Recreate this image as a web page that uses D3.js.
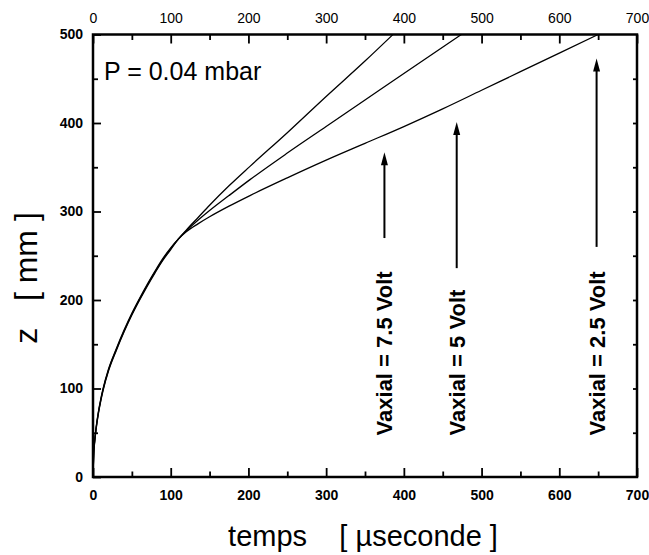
<!DOCTYPE html>
<html>
<head>
<meta charset="utf-8">
<script src="https://cdn.jsdelivr.net/npm/d3@7/dist/d3.min.js"></script>
<style>
    body { margin: 0; background: #fff; }
    svg { font-family: "Liberation Sans", Arial, Helvetica, sans-serif; }
    .axis path.domain { display: none; }
    .axis line { stroke: #000; stroke-width: 1.8; }
</style>
</head>
<body>
<svg id="chart" width="649" height="555"></svg>
<script>
// courbes z(t) : temps en µs, z en mm
const t75 = [0, 1, 2, 4, 7, 10, 13, 20, 30, 40, 50, 60, 70, 80, 90, 100, 110, 120, 135, 150, 175, 202, 250, 300, 350, 386];
const z75 = [0, 27, 38, 54, 72, 86, 98, 120, 143, 164, 183, 200, 216, 231, 245, 257, 269, 279, 293, 307, 329, 351, 389, 430, 470, 500];

const t50 = [0, 1, 2, 4, 7, 10, 13, 20, 30, 40, 50, 60, 70, 80, 90, 100, 110, 120, 135, 150, 175, 202, 250, 300, 350, 400, 474];
const z50 = [0, 28, 39, 55, 73, 87, 99, 121, 144, 165, 184, 201, 217, 232, 246, 258, 269, 278, 290, 301, 318, 336, 366, 396, 426, 456, 500];

const t25 = [0, 1, 2, 4, 7, 10, 13, 20, 30, 40, 50, 60, 70, 80, 90, 100, 110, 120, 135, 150, 175, 202, 250, 300, 350, 400, 450, 500, 550, 600, 650];
const z25 = [0, 29, 40, 56, 74, 88, 100, 122, 145, 166, 185, 202, 218, 233, 247, 259, 269, 277, 286, 294, 306, 318, 338, 358, 377, 396, 416, 437, 458, 479, 500];

// flèches et étiquettes
const arrowT = [375, 468, 648];
const arrowTop = [367, 401, 473];
const arrowBottom = [270, 236, 260];
const arrowLabels = ["Vaxial = 7.5 Volt", "Vaxial = 5 Volt", "Vaxial = 2.5 Volt"];
const labelStartZ = 47;

// graduations
const xMajorTicks = [0, 100, 200, 300, 400, 500, 600, 700];
const xMinorTicks = [50, 150, 250, 350, 450, 550, 650];
const yMajorTicks = [0, 100, 200, 300, 400, 500];
const yMinorTicks = [50, 150, 250, 350, 450];
const yRightTicks = [50, 100, 150, 200, 250, 300, 350, 400, 450];

const svg = d3.select("#chart");

// zone de tracé
const plot = {left: 93, right: 637, top: 34.5, bottom: 477};

const x = d3.scaleLinear().domain([0, 700]).range([plot.left, plot.right]);
const y = d3.scaleLinear().domain([0, 500]).range([plot.bottom, plot.top]);

// axe bas
svg.append("g").attr("class", "axis")
    .attr("transform", `translate(0,${plot.bottom})`)
    .call(d3.axisBottom(x).tickValues(xMinorTicks).tickSize(-5.5).tickFormat(""));
svg.append("g").attr("class", "axis")
    .attr("transform", `translate(0,${plot.bottom})`)
    .call(d3.axisBottom(x).tickValues(xMajorTicks).tickSize(-9).tickPadding(13).tickFormat(d3.format("d")))
    .call(g => g.selectAll("text").attr("fill", "#000").style("font-size", "14px").style("font-weight", "bold"));

// axe haut
svg.append("g").attr("class", "axis")
    .attr("transform", `translate(0,${plot.top})`)
    .call(d3.axisTop(x).tickValues(xMinorTicks).tickSize(-5.5).tickFormat(""));
svg.append("g").attr("class", "axis")
    .attr("transform", `translate(0,${plot.top})`)
    .call(d3.axisTop(x).tickValues(xMajorTicks).tickSize(-9).tickPadding(12).tickFormat(d3.format("d")))
    .call(g => g.selectAll("text").attr("fill", "#000").style("font-size", "14px"));

// axe gauche
svg.append("g").attr("class", "axis")
    .attr("transform", `translate(${plot.left},0)`)
    .call(d3.axisLeft(y).tickValues(yMinorTicks).tickSize(-5).tickFormat(""));
svg.append("g").attr("class", "axis")
    .attr("transform", `translate(${plot.left},0)`)
    .call(d3.axisLeft(y).tickValues(yMajorTicks).tickSize(-8).tickPadding(10).tickFormat(d3.format("d")))
    .call(g => g.selectAll("text").attr("fill", "#000").style("font-size", "14px").style("font-weight", "bold"));

// axe droit
svg.append("g").attr("class", "axis")
    .attr("transform", `translate(${plot.right},0)`)
    .call(d3.axisRight(y).tickValues(yRightTicks).tickSize(-4).tickFormat(""));

// cadre
svg.append("rect")
    .attr("x", plot.left).attr("y", plot.top)
    .attr("width", plot.right - plot.left).attr("height", plot.bottom - plot.top)
    .attr("fill", "none").attr("stroke", "#000").attr("stroke-width", 2.5);

// courbes
const line = d3.line().x(d => x(d[0])).y(d => y(d[1])).curve(d3.curveMonotoneX);
[[t75, z75], [t50, z50], [t25, z25]].forEach(([ts, zs]) => {
    svg.append("path")
        .datum(ts.map((t, i) => [t, zs[i]]))
        .attr("d", line)
        .attr("fill", "none")
        .attr("stroke", "#000")
        .attr("stroke-width", 1.3);
});

// flèches verticales + textes
arrowT.forEach((t, i) => {
    const ax = x(t);
    svg.append("line")
        .attr("x1", ax).attr("x2", ax)
        .attr("y1", y(arrowBottom[i])).attr("y2", y(arrowTop[i]) + 10)
        .attr("stroke", "#000").attr("stroke-width", 2);
    const tip = y(arrowTop[i]);
    svg.append("path")
        .attr("d", `M${ax},${tip} L${ax - 3.5},${tip + 13} L${ax + 3.5},${tip + 13} Z`)
        .attr("fill", "#000");
    svg.append("text")
        .attr("transform", `translate(${ax + 8},${y(labelStartZ)}) rotate(-90)`)
        .attr("text-anchor", "start")
        .style("font-size", "22px")
        .style("font-weight", "bold")
        .text(arrowLabels[i]);
});

// pression
svg.append("text")
    .attr("x", 104).attr("y", 80)
    .style("font-size", "25px")
    .text("P = 0.04 mbar");

// titres des axes
svg.append("text")
    .attr("x", (plot.left + plot.right) / 2 - 2).attr("y", 546)
    .attr("text-anchor", "middle")
    .style("font-size", "29px")
    .style("white-space", "pre")
    .text("temps    [ µseconde ]");

svg.append("text")
    .attr("transform", "translate(37,278) rotate(-90)")
    .attr("text-anchor", "middle")
    .style("font-size", "32px")
    .style("white-space", "pre")
    .text("z   [ mm ]");
</script>
</body>
</html>
